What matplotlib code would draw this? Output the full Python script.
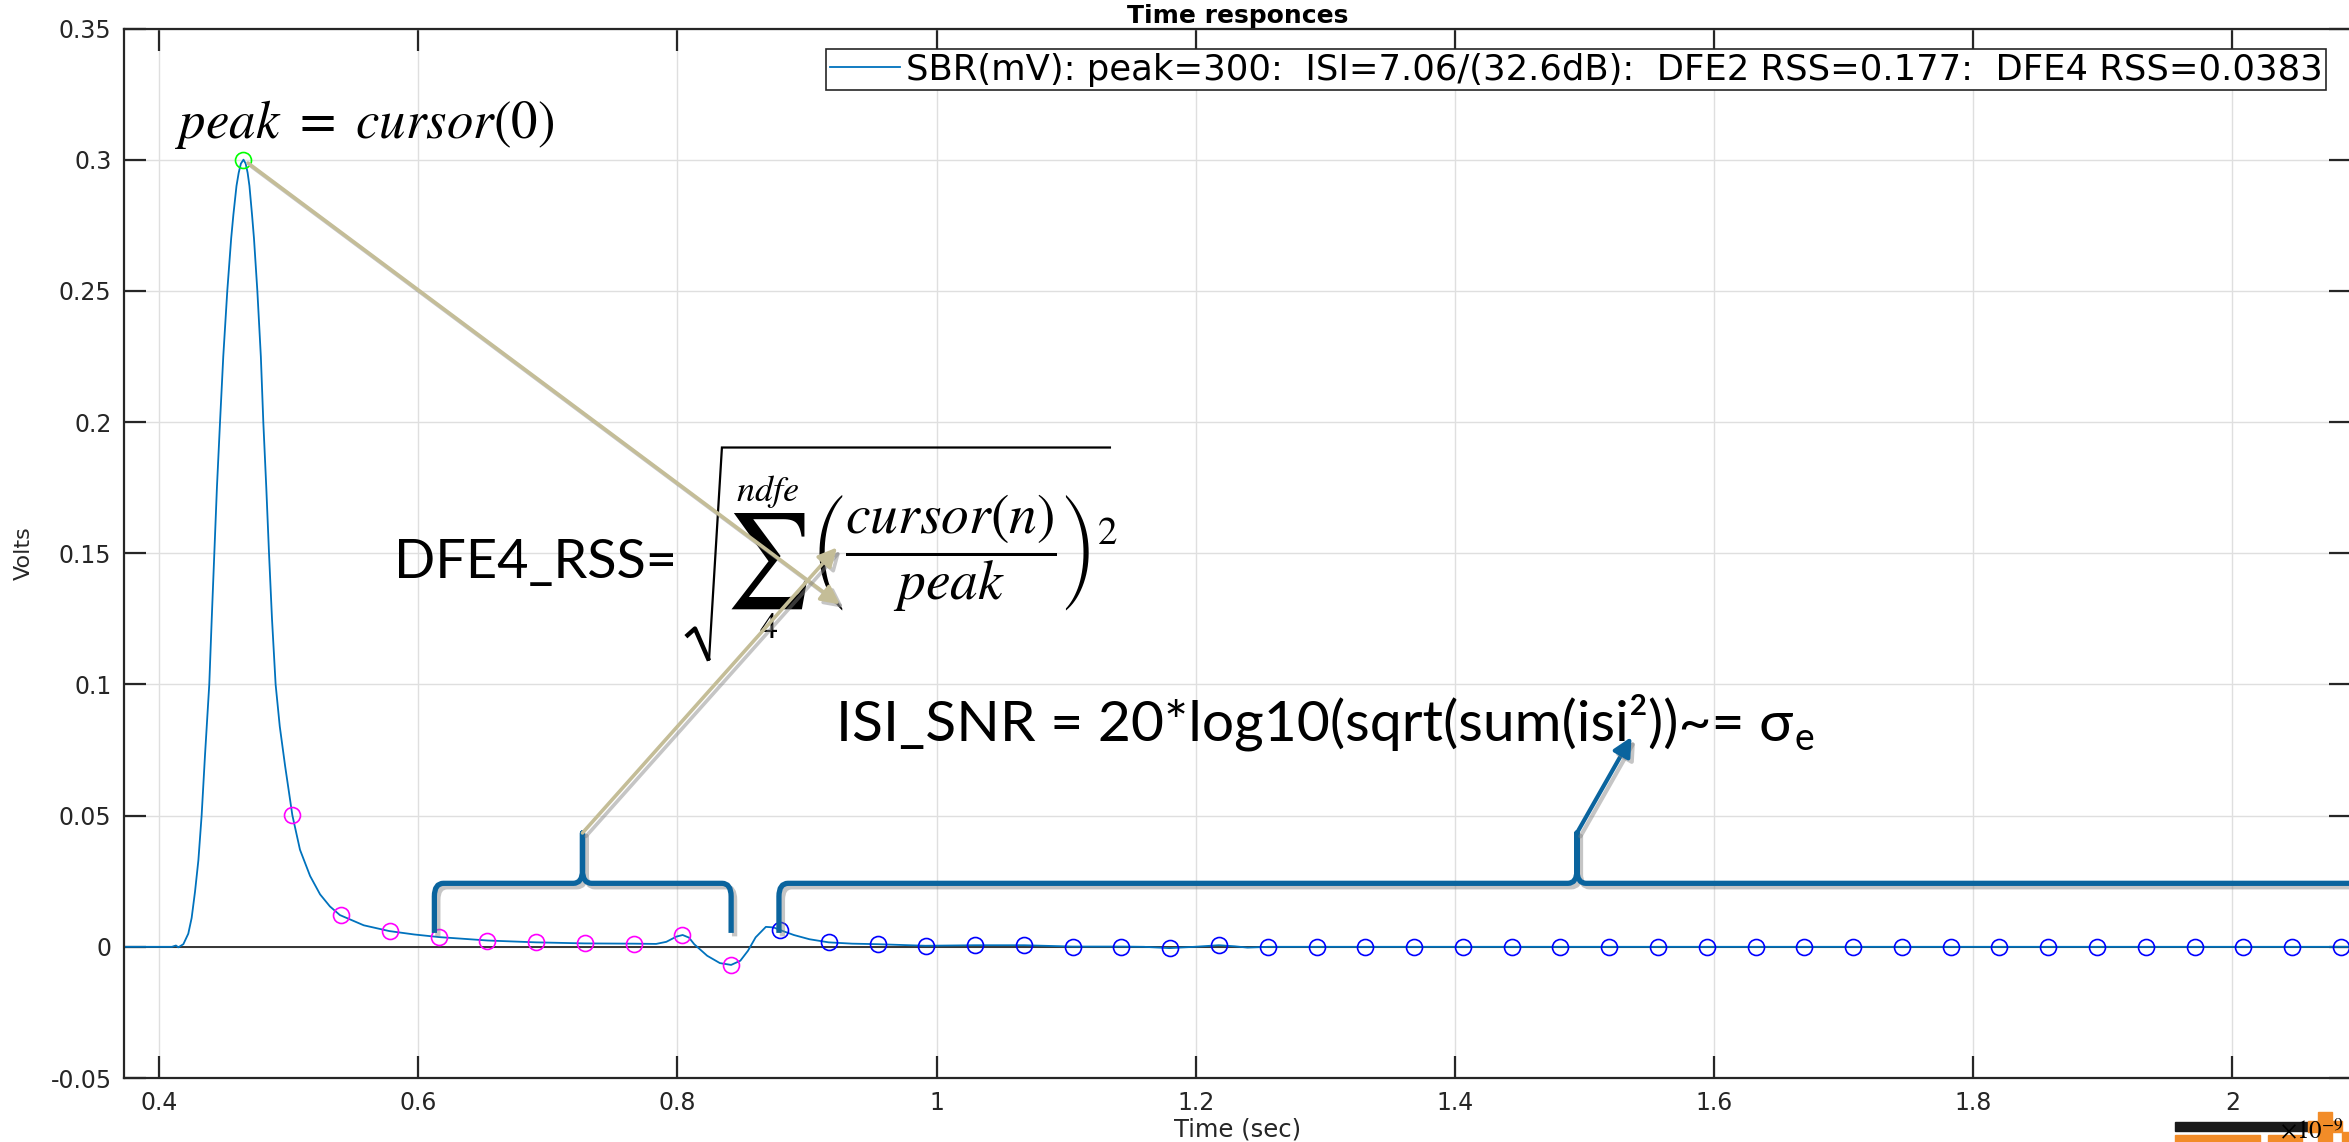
import matplotlib.pyplot as plt
import matplotlib.patheffects as pe
from matplotlib.patches import Rectangle, PathPatch
from matplotlib.path import Path

plt.rcParams['font.family'] = ['DejaVu Sans']
plt.rcParams['mathtext.fontset'] = 'stix'

# pulse response, time in ns (axis shows x10^-9), volts
time_ns = [0.373, 0.400, 0.410, 0.4131, 0.4149, 0.4188, 0.4226, 0.4252, 0.4278,
           0.4304, 0.4329, 0.4355, 0.4388, 0.4407, 0.4427, 0.4447, 0.4471, 0.4496,
           0.4527, 0.4557, 0.4574, 0.4598, 0.4615, 0.4632, 0.4652, 0.4669, 0.4684,
           0.4698, 0.4718, 0.4733, 0.4759, 0.4786, 0.4805, 0.4828, 0.4849, 0.4872,
           0.4900, 0.4932, 0.4973, 0.5029, 0.5088, 0.5166, 0.5243, 0.5319, 0.5396,
           0.5580, 0.5777, 0.5970, 0.6163, 0.6537, 0.6911, 0.7285, 0.7659, 0.7836,
           0.7915, 0.7993, 0.8041, 0.8090, 0.8130, 0.8230, 0.8328, 0.8415, 0.8486,
           0.8545, 0.8604, 0.8683, 0.8742, 0.8793, 0.8899, 0.9018, 0.9167, 0.9350,
           0.9545, 0.9914, 1.0295, 1.0676, 1.1048, 1.1429, 1.1600, 1.1797, 1.1990,
           1.2178, 1.2300, 1.2400, 1.2559, 1.2931, 2.0950]
volts = [0.0, 0.0, 0.0, 0.0005, -0.0002, 0.0010, 0.0050, 0.0110, 0.0210,
         0.0330, 0.0500, 0.0730, 0.1000, 0.1250, 0.1500, 0.1750, 0.2000, 0.2250,
         0.2500, 0.2700, 0.2790, 0.2900, 0.2950, 0.2985, 0.3000, 0.2985, 0.2950,
         0.2900, 0.2790, 0.2700, 0.2500, 0.2250, 0.2000, 0.1750, 0.1500, 0.1250,
         0.1000, 0.0840, 0.0690, 0.0502, 0.0370, 0.0270, 0.0200, 0.0154, 0.0121,
         0.0082, 0.0060, 0.0047, 0.0037, 0.0024, 0.0017, 0.0013, 0.0012, 0.0011,
         0.0019, 0.0039, 0.0045, 0.0035, 0.0010, -0.0034, -0.0062, -0.0069, -0.0053,
         -0.0015, 0.0036, 0.0076, 0.0074, 0.0064, 0.0045, 0.0029, 0.0017, 0.0012,
         0.0010, 0.0004, 0.0006, 0.0006, 0.0001, 0.0001, 0.0000, -0.0005, 0.0000,
         0.0006, 0.0002, -0.0003, 0.0000, 0.0000, 0.0000]

# cursors sampled once per UI from the peak
t_peak = 0.4652
ui = 0.03764
cursors = [0.3000, 0.0502, 0.0121, 0.0060, 0.0037, 0.0024, 0.0017, 0.0013, 0.0012,
           0.0045, -0.0069, 0.0064, 0.0017, 0.0010, 0.0004, 0.0006, 0.0006, 0.0001,
           0.0001, -0.0005, 0.0006, 0.0001, 0.0000, 0.0000, 0.0000, 0.0000, 0.0000,
           0.0000, 0.0000, 0.0000, 0.0000, 0.0000, 0.0000, 0.0000, 0.0000, 0.0000,
           0.0000, 0.0000, 0.0000, 0.0000, 0.0000, 0.0000, 0.0000, 0.0000]
n_dfe = 10

legend_label = "SBR(mV): peak=300:  ISI=7.06/(32.6dB):  DFE2 RSS=0.177:  DFE4 RSS=0.0383"
x_ticks = [0.4, 0.6, 0.8, 1.0, 1.2, 1.4, 1.6, 1.8, 2.0]
x_labels = ['0.4', '0.6', '0.8', '1', '1.2', '1.4', '1.6', '1.8', '2']
y_ticks = [-0.05, 0, 0.05, 0.1, 0.15, 0.2, 0.25, 0.3, 0.35]
y_labels = ['-0.05', '0', '0.05', '0.1', '0.15', '0.2', '0.25', '0.3', '0.35']

# annotation braces: (start, end, tip) in ns, and (foot, bar, tip) heights
dfe_brace = (0.6125, 0.8415, 0.7268)
isi_brace = (0.8784, 2.30, 1.4942)
brace_y = (0.0053, 0.0242, 0.0434)

# radical sign of the DFE4_RSS formula (hook, foot, top, end of bar)
radical_x = [0.8066, 0.8136, 0.8244, 0.8344, 1.1338]
radical_y = [0.1182, 0.1213, 0.1091, 0.1903, 0.1903]

dark = '#262626'
tan = '#C4BD97'
brace_blue = '#0A649E'
calibri_like = ['Lato', 'DejaVu Sans']


def brace_path(x0, x1, xm, yf, yb, yt, rx=0.007, ry=0.005):
    verts = [(x0, yf), (x0, yb - ry), (x0, yb), (x0 + rx, yb),
             (xm - rx, yb), (xm, yb), (xm, yb + ry), (xm, yt),
             (xm, yb + ry), (xm, yb), (xm + rx, yb),
             (x1 - rx, yb), (x1, yb), (x1, yb - ry), (x1, yf)]
    codes = [Path.MOVETO, Path.LINETO, Path.CURVE3, Path.CURVE3,
             Path.LINETO, Path.CURVE3, Path.CURVE3, Path.LINETO,
             Path.LINETO, Path.CURVE3, Path.CURVE3,
             Path.LINETO, Path.CURVE3, Path.CURVE3, Path.LINETO]
    return Path(verts, codes)


fig = plt.figure(figsize=(23.49, 11.42), dpi=100)
ax = fig.add_axes([124 / 2349, 64 / 1142, 2227 / 2349, 1049.5 / 1142])

ax.grid(True, color='#dfdfdf', lw=1.0)
ax.set_axisbelow(True)
ax.axhline(0, color=dark, lw=1.3, zorder=1.5)

ax.plot(time_ns, volts, color='#0072BD', lw=1.3, label=legend_label, zorder=2)

cur_t = [t_peak + k * ui for k in range(len(cursors))]
mk = dict(ls='none', marker='o', mfc='none', ms=11.5, mew=1.2, zorder=3)
ax.plot(cur_t[:1], cursors[:1], mec='#00FF00', **mk)
ax.plot(cur_t[1:n_dfe + 1], cursors[1:n_dfe + 1], mec='#FF00FF', **mk)
ax.plot(cur_t[n_dfe + 1:], cursors[n_dfe + 1:], mec='#0000FF', **mk)

ax.set_xlim(0.373, 2.0915)
ax.set_ylim(-0.05, 0.35)
ax.set_xticks(x_ticks, x_labels)
ax.set_yticks(y_ticks, y_labels)
ax.tick_params(direction='in', length=16, width=1.6, color=dark, labelcolor=dark,
               labelsize=17, top=True, right=True, pad=9)
for s in ax.spines.values():
    s.set_color(dark)
    s.set_linewidth(1.6)

ax.set_title('Time responces', fontsize=18, fontweight='bold', pad=4, color='black')
ax.set_xlabel('Time (sec)', fontsize=17.5, color=dark, labelpad=2)
ax.set_ylabel('Volts', fontsize=16, color=dark)
ax.yaxis.set_label_coords(-0.0405, 0.5)

leg = ax.legend(loc='upper right', bbox_to_anchor=(0.9888, 0.9805), borderaxespad=0,
                fontsize=25.5, handlelength=2.0, handletextpad=0.15, borderpad=0.1,
                fancybox=False, framealpha=1, edgecolor=dark)
leg.get_frame().set_linewidth(1.2)

# braces
shadow = [pe.SimpleLineShadow(offset=(2.5, -2.5), shadow_color='gray', alpha=0.45),
          pe.Normal()]
for b in (dfe_brace, isi_brace):
    p = PathPatch(brace_path(b[0], b[1], b[2], *brace_y), fill=False,
                  edgecolor=brace_blue, lw=3.8, capstyle='butt', joinstyle='round',
                  zorder=4, path_effects=shadow)
    ax.add_patch(p)

# formula texts
ax.text(0.4123, 0.3082, r'$peak\ =\ cursor(0)$', fontsize=38, va='baseline',
        ha='left', color='black', zorder=6)
ax.text(0.5813, 0.1404, 'DFE4_RSS=', fontsize=39, family=calibri_like,
        va='baseline', ha='left', color='black', zorder=6)
ax.plot(radical_x[1:], radical_y[1:], color='black', lw=1.6, solid_joinstyle='miter',
        zorder=6)
ax.plot(radical_x[:3], radical_y[:3], color='black', lw=3.2, solid_capstyle='butt',
        zorder=6)
ax.text(0.8686, 0.1469, r'$\sum$', fontsize=68, ha='center', va='center',
        color='black', zorder=6)
ax.text(0.8699, 0.1735, r'$ndfe$', fontsize=26, ha='center', va='center',
        color='black', zorder=6)
ax.text(0.8700, 0.1216, r'$4$', fontsize=26, ha='center', va='center',
        color='black', zorder=6)
ax.text(0.9022, 0.1500, r'$\left(\dfrac{cursor(n)}{peak}\right)^{2}$', fontsize=40,
        ha='left', va='center', color='black', zorder=6)
isi_txt = ax.text(0.9224, 0.0785, 'ISI_SNR = 20*log10(sqrt(sum(isi²))~= σ',
                  fontsize=41, family=calibri_like, va='baseline', ha='left',
                  color='black', zorder=6)
ax.annotate('e', xy=(1.0, 0.0), xycoords=isi_txt, xytext=(1, 1),
            textcoords='offset points', fontsize=27, family=calibri_like,
            va='baseline', ha='left', color='black', zorder=6)

# arrows
tan_props = dict(arrowstyle='-|>', color=tan, lw=2.6, mutation_scale=28,
                 shrinkA=4, shrinkB=0, path_effects=shadow)
ax.annotate('', xy=(0.9255, 0.1305), xytext=(t_peak, cursors[0]),
            arrowprops=tan_props, zorder=7)
ax.annotate('', xy=(0.9232, 0.1522), xytext=(dfe_brace[2], brace_y[2]),
            arrowprops=dict(tan_props, shrinkA=0), zorder=7)
ax.annotate('', xy=(1.5363, 0.0800), xytext=(isi_brace[2], brace_y[2]),
            arrowprops=dict(arrowstyle='-|>', color=brace_blue, lw=3.0,
                            mutation_scale=28, shrinkA=0, shrinkB=0,
                            path_effects=shadow), zorder=7)

# logo fragments and x offset label at bottom right
fig.patches.append(Rectangle((2175 / 2349, 11 / 1142), 133 / 2349, 9 / 1142,
                             transform=fig.transFigure, color='#1a1a1a', zorder=0))
for (x, y, w, h) in [(2318, 0, 14, 30), (2308, 10, 34, 11), (2175, 0, 85, 7),
                     (2268, 0, 34, 7), (2342, 0, 7, 10)]:
    fig.patches.append(Rectangle((x / 2349, y / 1142), w / 2349, h / 1142,
                                 transform=fig.transFigure, color='#F28C28', zorder=0))
fig.text(2280 / 2349, -2 / 1142, r'$\times10^{-9}$', fontsize=18, ha='left',
         va='bottom', color='black')

fig.savefig('out.png', dpi=100)
